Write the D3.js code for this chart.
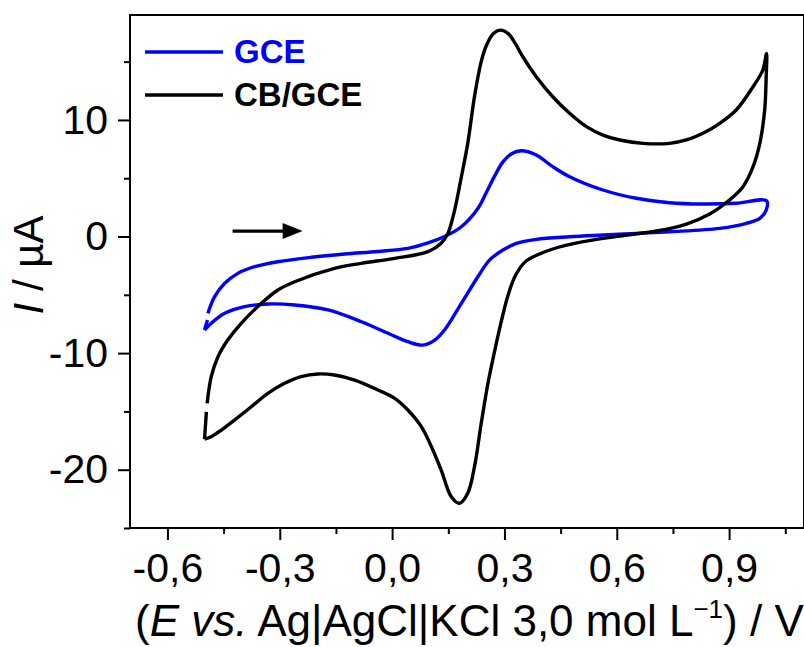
<!DOCTYPE html>
<html>
<head>
<meta charset="utf-8">
<script src="https://cdn.jsdelivr.net/npm/d3@7"></script>
<style>
  body { margin: 0; background: #fff; }
  text { font-family: "Liberation Sans", Arial, sans-serif; }
</style>
</head>
<body>
<script>
// GCE voltammogram, potential (V) and current (uA), forward then reverse scan
// null marks the small break in the trace near -0,5 V
const gcePotential = [-0.501,-0.493,null,-0.492,-0.474,-0.447,-0.412,-0.367,-0.305,-0.216,-0.127,-0.038,0.042,0.096,0.140,0.185,0.229,0.252,0.274,0.296,0.319,0.345,0.385,0.429,0.474,0.563,0.652,0.741,0.830,0.919,1.000,
  0.999,0.982,0.946,0.875,0.741,0.652,0.563,0.474,0.385,0.332,0.296,0.260,0.229,0.185,0.140,0.114,0.082,0.042,-0.011,-0.082,-0.171,-0.260,-0.332,-0.394,-0.447,-0.483,-0.501];
const gceCurrent = [-8.02,-7.16,null,-6.59,-5.16,-4.01,-3.16,-2.59,-2.16,-1.78,-1.50,-1.28,-1.02,-0.55,0.00,0.84,2.40,3.80,5.20,6.40,7.10,7.36,6.99,5.99,5.13,3.99,3.28,2.90,2.79,2.85,3.07,
  2.27,1.56,1.13,0.70,0.41,0.27,0.13,-0.02,-0.24,-0.58,-1.16,-2.02,-3.45,-5.73,-8.02,-8.88,-9.31,-9.02,-8.30,-7.31,-6.30,-5.87,-5.79,-6.02,-6.59,-7.44,-8.02];

// CB/GCE voltammogram
const cbPotential = [-0.501,-0.496,null,-0.494,-0.483,-0.465,-0.439,-0.403,-0.349,-0.305,-0.260,-0.154,-0.082,0.007,0.096,0.131,0.149,0.167,0.185,0.202,0.220,0.238,0.252,0.270,0.290,0.310,0.330,0.349,0.385,0.429,0.474,0.519,0.563,0.608,0.670,0.741,0.786,0.830,0.875,0.919,0.964,0.990,1.000,
  0.999,0.995,0.982,0.964,0.937,0.901,0.848,0.786,0.706,0.608,0.519,0.429,0.358,0.330,0.310,0.290,0.274,0.256,0.238,0.220,0.202,0.180,0.158,0.131,0.105,0.078,0.042,0.007,-0.038,-0.100,-0.154,-0.198,-0.243,-0.287,-0.332,-0.376,-0.421,-0.456,-0.483,-0.501];
const cbCurrent = [-17.37,-15.05,null,-14.31,-12.02,-10.31,-8.88,-7.44,-5.73,-4.59,-3.88,-2.73,-2.30,-1.87,-1.30,-0.58,0.27,2.27,5.13,7.99,12.00,15.00,16.40,17.40,17.70,17.40,16.50,15.42,13.71,11.99,10.57,9.42,8.70,8.28,7.99,7.99,8.28,8.85,9.71,10.85,12.85,14.28,15.71,
  13.71,10.85,7.99,5.99,4.27,3.13,1.93,1.07,0.47,0.04,-0.39,-1.07,-2.10,-3.30,-5.00,-7.50,-9.80,-12.59,-16.02,-19.74,-22.02,-22.88,-22.32,-20.03,-18.03,-16.31,-14.88,-13.88,-13.16,-12.31,-11.88,-11.79,-12.02,-12.59,-13.45,-14.60,-15.74,-16.60,-17.17,-17.37];

const seriesNames = ["GCE", "CB/GCE"];
const seriesColors = ["#0000ff", "#000000"];

const xTicks = [-0.6, -0.3, 0.0, 0.3, 0.6, 0.9];
const xMinorTicks = [-0.45, -0.15, 0.15, 0.45, 0.75, 1.05];
const yTicks = [-20, -10, 0, 10];
const yMinorTicks = [-25, -15, -5, 5, 15];

const width = 804;
const height = 647;

var svg = d3.select("body")
            .append("svg")
            .attr("width", width)
            .attr("height", height);

var xScale = d3.scaleLinear()
            .domain([-0.7, 1.1])
            .range([130, 804]);

var yScale = d3.scaleLinear()
            .domain([-25, 19])
            .range([528, 15]);

const fmt = (d) => d3.format(".1f")(d).replace(".", ",").replace("−", "-");

// minor ticks first, major on top
svg.append("g")
            .attr("transform", "translate(0,528)")
            .call(d3.axisBottom(xScale).tickValues(xMinorTicks).tickSize(6).tickFormat(""))
            .call(g => g.select(".domain").remove())
            .selectAll("line").attr("stroke-width", 2);

svg.append("g")
            .attr("transform", "translate(0,528)")
            .call(d3.axisBottom(xScale).tickValues(xTicks).tickSize(12).tickPadding(13).tickFormat(fmt))
            .call(g => g.select(".domain").remove())
            .call(g => g.selectAll("line").attr("stroke-width", 2))
            .selectAll("text")
            .attr("font-size", 41)
            .attr("font-family", "Liberation Sans, Arial, sans-serif")
            .attr("fill", "#000");

svg.append("g")
            .attr("transform", "translate(130,0)")
            .call(d3.axisLeft(yScale).tickValues(yMinorTicks).tickSize(6).tickFormat(""))
            .call(g => g.select(".domain").remove())
            .selectAll("line").attr("stroke-width", 2);

svg.append("g")
            .attr("transform", "translate(130,0)")
            .call(d3.axisLeft(yScale).tickValues(yTicks).tickSize(12).tickPadding(10).tickFormat(d => String(d)))
            .call(g => g.select(".domain").remove())
            .call(g => g.selectAll("line").attr("stroke-width", 2))
            .selectAll("text")
            .attr("font-size", 41)
            .attr("font-family", "Liberation Sans, Arial, sans-serif")
            .attr("fill", "#000");

// frame
svg.append("rect")
            .attr("x", xScale(-0.7))
            .attr("y", yScale(19))
            .attr("width", xScale(1.1) - xScale(-0.7))
            .attr("height", yScale(-25) - yScale(19))
            .attr("fill", "none")
            .attr("stroke", "#000")
            .attr("stroke-width", 2);

var line = d3.line()
            .defined((d) => d[1] !== null)
            .x((d) => xScale(d[0]))
            .y((d) => yScale(d[1]))
            .curve(d3.curveCatmullRom.alpha(0.5));

const curves = [
  d3.zip(gcePotential, gceCurrent),
  d3.zip(cbPotential, cbCurrent)
];

svg.selectAll(".cv")
            .data(curves)
            .enter()
            .append("path")
            .attr("class", "cv")
            .attr("d", line)
            .attr("fill", "none")
            .attr("stroke", (d, i) => seriesColors[i])
            .attr("stroke-width", 3.4)
            .attr("stroke-linejoin", "round");

// legend
var legend = svg.selectAll(".legend")
            .data(seriesNames)
            .enter()
            .append("g")
            .attr("class", "legend")
            .attr("transform", (d, i) => `translate(145,${52 + i * 43})`);

legend.append("line")
            .attr("x1", 0)
            .attr("x2", 78)
            .attr("stroke", (d, i) => seriesColors[i])
            .attr("stroke-width", 3.4);

legend.append("text")
            .attr("x", 89)
            .attr("y", 11)
            .attr("font-size", 33)
            .attr("font-weight", "bold")
            .attr("fill", (d, i) => seriesColors[i])
            .text((d) => d);

// scan direction arrow
const arrowStart = [-0.426, 0.47];
const arrowEnd = [-0.239, 0.47];
svg.append("line")
            .attr("x1", xScale(arrowStart[0]))
            .attr("y1", yScale(arrowStart[1]))
            .attr("x2", xScale(arrowEnd[0]) - 18)
            .attr("y2", yScale(arrowEnd[1]))
            .attr("stroke", "#000")
            .attr("stroke-width", 3.2);
svg.append("path")
            .attr("d", `M${xScale(arrowEnd[0])},${yScale(arrowEnd[1])} l-20,-8 l0,16 z`)
            .attr("fill", "#000");

// axis titles
var xTitle = svg.append("text")
            .attr("x", 135)
            .attr("y", 636)
            .attr("font-size", 44)
            .attr("fill", "#000");
xTitle.append("tspan").text("(");
xTitle.append("tspan").attr("font-style", "italic").text("E vs.");
xTitle.append("tspan").text(" Ag|AgCl|KCl 3,0 mol L");
xTitle.append("tspan").attr("font-size", 26).attr("dy", -18).text("\u22121");
xTitle.append("tspan").attr("dy", 18).text(") / V");

var yTitle = svg.append("text")
            .attr("transform", "translate(43,265) rotate(-90)")
            .attr("text-anchor", "middle")
            .attr("font-size", 42)
            .attr("fill", "#000");
yTitle.append("tspan").attr("font-style", "italic").text("I");
yTitle.append("tspan").text(" / \u00b5A");
</script>
</body>
</html>
